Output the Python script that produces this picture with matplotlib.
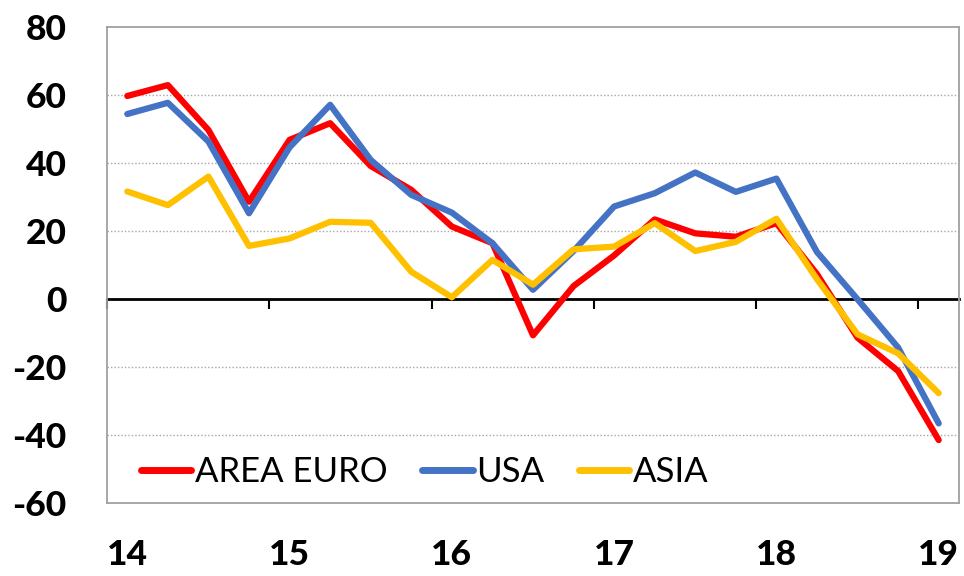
import matplotlib
matplotlib.use("Agg")
import matplotlib.pyplot as plt
import numpy as np

plt.rcParams['font.family'] = ['Lato', 'DejaVu Sans']

years = ["14", "15", "16", "17", "18", "19"]
area_euro = [59.8, 63.0, 49.8, 28.7, 46.9, 51.8, 39.2, 32.2, 21.4, 16.5, -10.6,
             3.9, 12.9, 23.5, 19.4, 18.4, 22.4, 7.4, -11.3, -21.1, -41.4]
usa = [54.5, 57.8, 46.4, 25.3, 44.7, 57.2, 41.0, 30.7, 25.5, 16.5, 2.8,
       14.2, 27.3, 31.2, 37.3, 31.6, 35.5, 13.9, 0.0, -14.2, -36.5]
asia = [31.7, 27.7, 36.1, 15.7, 17.9, 22.8, 22.5, 8.1, 0.6, 11.6, 4.3,
        14.7, 15.5, 22.4, 14.2, 16.9, 23.7, 5.9, -10.3, -15.9, -27.6]
series_names = ["AREA EURO", "USA", "ASIA"]
colors = ["#FF0000", "#4472C4", "#FFC000"]

n = len(area_euro)
x = np.arange(n)

fig = plt.figure(figsize=(9.64, 5.76), dpi=100)
ax = fig.add_axes([0.111, 0.1262, 0.8838, 0.8264])

for vals, name, c in zip([area_euro, usa, asia], series_names, colors):
    ax.plot(x, vals, color=c, lw=4.5, label=name, solid_joinstyle='round',
            solid_capstyle='round')

ax.set_xlim(-0.5, n - 0.5)
ax.set_ylim(-60, 80)

yticks = np.arange(-60, 81, 20)
ax.set_yticks(yticks)
ax.set_yticklabels([str(v) for v in yticks], fontweight='black', fontsize=25.5)
ax.tick_params(axis='y', length=0, pad=29)

ax.set_xticks(x[::4])
ax.set_xticklabels(years, fontweight='black', fontsize=25.5)
ax.tick_params(axis='x', length=0, pad=26)

for v in yticks:
    if v not in (0, -60, 80):
        ax.axhline(v, color='#A6A6A6', lw=1.0, ls=(0, (1, 1.5)), zorder=0)

for s in ax.spines.values():
    s.set_color('#A0A0A0')
    s.set_linewidth(1.3)

# zero axis with tick marks at category boundaries
sec = ax.secondary_xaxis(0, transform=ax.transData)
sec.set_xticks(x[::4] - 0.5)
sec.set_xticklabels([])
sec.tick_params(axis='x', direction='out', length=7, width=1.5, color='black')
sec.spines['bottom'].set_color('black')
sec.spines['bottom'].set_linewidth(2)

leg = ax.legend(loc='center left', bbox_to_anchor=(0.04, 0.066), ncol=3,
                frameon=False, fontsize=25, handlelength=1.45,
                handletextpad=0.1, columnspacing=1.0, borderpad=0,
                borderaxespad=0)
for line in leg.get_lines():
    line.set_linewidth(5)

fig.savefig("out.png", dpi=100)
